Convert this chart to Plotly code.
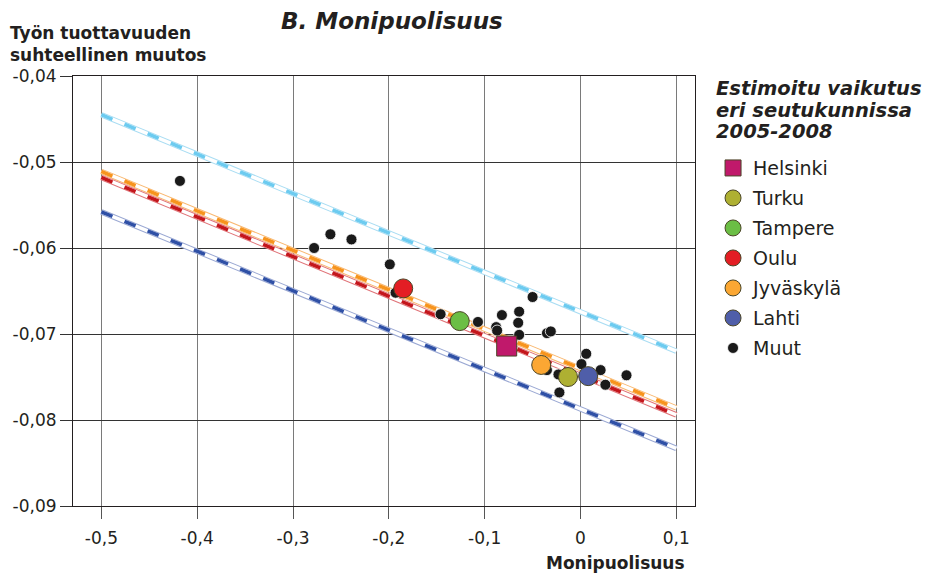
import plotly.graph_objects as go

# ---------------- data ----------------
line_x = [-0.5, 0.1]
line_lightblue = [-0.0445, -0.0720]
line_orange = [-0.0511, -0.0786]
line_red = [-0.0518, -0.0794]
line_blue = [-0.0558, -0.0833]

muut_x = [-0.418, -0.278, -0.261, -0.239, -0.199, -0.193, -0.146, -0.107, -0.082,
          -0.088, -0.087, -0.064, -0.065, -0.064, -0.050, -0.035, -0.031, -0.035,
          -0.023, -0.022, 0.001, 0.006, 0.021, 0.026, 0.048]
muut_y = [-0.0522, -0.0600, -0.0584, -0.0590, -0.0619, -0.0652, -0.0677, -0.0686, -0.0678,
          -0.0692, -0.0696, -0.0674, -0.0687, -0.0701, -0.0657, -0.0699, -0.0697, -0.0742,
          -0.0747, -0.0768, -0.0735, -0.0723, -0.0742, -0.0759, -0.0748]

city_names = ["Helsinki", "Turku", "Tampere", "Oulu", "Jyväskylä", "Lahti"]
city_x = [-0.077, -0.013, -0.126, -0.185, -0.041, 0.008]
city_y = [-0.0714, -0.0750, -0.0685, -0.0647, -0.0736, -0.0749]
city_colors = ["#C0196B", "#AEB032", "#6BBE45", "#E31E24", "#FBA733", "#4F5EA9"]
city_symbols = ["square", "circle", "circle", "circle", "circle", "circle"]

x_tickvals = [-0.5, -0.4, -0.3, -0.2, -0.1, 0, 0.1]
x_ticktext = ["-0,5", "-0,4", "-0,3", "-0,2", "-0,1", "0", "0,1"]
y_tickvals = [-0.04, -0.05, -0.06, -0.07, -0.08, -0.09]
y_ticktext = ["-0,04", "-0,05", "-0,06", "-0,07", "-0,08", "-0,09"]

legend_title_lines = ["Estimoitu vaikutus", "eri seutukunnissa", "2005-2008"]

# ---------------- figure ----------------
fig = go.Figure()

lines = [
    (line_lightblue, "#6CCBF0", "#A9DDF3"),
    (line_orange, "#F7941D", "#F9B870"),
    (line_red, "#C4161C", "#E07378"),
    (line_blue, "#2F50A6", "#9AA8D3"),
]
for ys, col, light in lines:
    fig.add_trace(go.Scatter(x=line_x, y=ys, mode="lines", showlegend=False, hoverinfo="skip",
                             line=dict(color=light, width=5.5)))
    fig.add_trace(go.Scatter(x=line_x, y=ys, mode="lines", showlegend=False, hoverinfo="skip",
                             line=dict(color="white", width=3.5)))
    fig.add_trace(go.Scatter(x=line_x, y=ys, mode="lines", showlegend=False, hoverinfo="skip",
                             line=dict(color=col, width=3.5, dash="12px,13px")))

fig.add_trace(go.Scatter(x=muut_x, y=muut_y, mode="markers", name="Muut",
                         legendgroup="muut", legendrank=1007,
                         marker=dict(color="#1A1A1A", size=11, line=dict(color="white", width=0.8))))

for i, name in enumerate(city_names):
    fig.add_trace(go.Scatter(x=[city_x[i]], y=[city_y[i]], mode="markers", name=name,
                             legendgroup=name, legendrank=1000 + i,
                             marker=dict(color=city_colors[i], size=20 if city_symbols[i] == "square" else 19,
                                         symbol=city_symbols[i],
                                         line=dict(color="#4A4526", width=1))))

font_main = "DejaVu Sans, Verdana, sans-serif"

# page body has an 8px margin, so the figure is 8px smaller and margins shifted by 8px
fig.update_layout(
    width=927, height=568,
    margin=dict(l=65, r=240, t=68, b=70, autoexpand=False),
    paper_bgcolor="white", plot_bgcolor="white",
    font=dict(family=font_main, color="#231F20", size=17),
    showlegend=True,
    legend=dict(x=1.029, xanchor="left", y=0.830, yanchor="top",
                font=dict(size=19, color="#231F20"),
                traceorder="grouped", tracegroupgap=2.3,
                itemsizing="trace", bgcolor="rgba(0,0,0,0)"),
    xaxis=dict(range=[-0.5296, 0.1195], tickvals=x_tickvals, ticktext=x_ticktext,
               showgrid=True, gridcolor="#7A7A7A", gridwidth=1, zeroline=False,
               ticks="outside", ticklen=12, tickcolor="#555555", tickwidth=1,
               showline=True, linecolor="#231F20", linewidth=1, mirror=True,
               tickfont=dict(size=17), ticklabelstandoff=5),
    yaxis=dict(range=[-0.09, -0.04], tickvals=y_tickvals, ticktext=y_ticktext,
               showgrid=True, gridcolor="#333333", gridwidth=1, zeroline=False,
               ticks="outside", ticklen=12, tickcolor="#333333", tickwidth=1,
               showline=True, linecolor="#231F20", linewidth=1, mirror=True,
               tickfont=dict(size=17)),
)

annotations = [
    dict(text="<b><i>B. Monipuolisuus</i></b>", xref="paper", yref="paper", x=0.513, y=1.127,
         xanchor="center", yanchor="middle", showarrow=False, font=dict(size=23)),
    dict(text="<b>Työn tuottavuuden<br>suhteellinen muutos</b>", xref="paper", yref="paper",
         x=-0.1045, y=1.0748, xanchor="left", yanchor="middle", align="left",
         showarrow=False, font=dict(size=17)),
    dict(text="<b>Monipuolisuus</b>", xref="paper", yref="paper", x=0.987, y=-0.133,
         xanchor="right", yanchor="middle", showarrow=False, font=dict(size=17)),
]
title_y_px = [88, 110, 131]
for txt, ypx in zip(legend_title_lines, title_y_px):
    annotations.append(dict(text=f"<b><i>{txt}</i></b>", xref="paper", yref="paper",
                            x=(714 - 73) / 622, y=(506 - ypx) / 430.3,
                            xanchor="left", yanchor="middle", showarrow=False,
                            font=dict(size=19.5)))
fig.update_layout(annotations=annotations)

fig.write_html("out.html")
